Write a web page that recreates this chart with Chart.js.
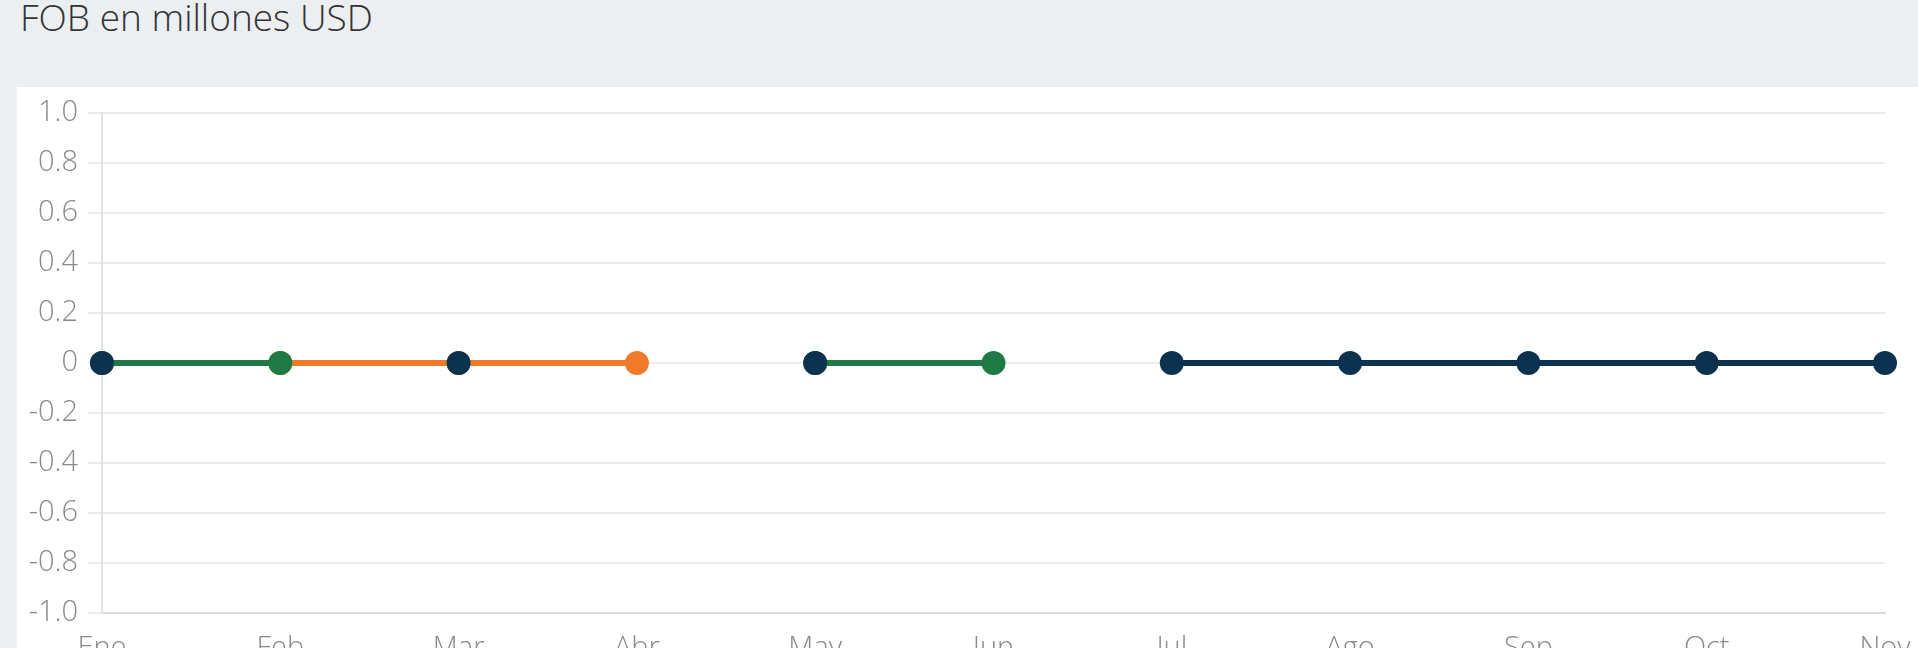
<!DOCTYPE html>
<html>
<head>
<meta charset="utf-8">
<script src="https://cdn.jsdelivr.net/npm/chart.js@4/dist/chart.umd.min.js"></script>
<style>
  html, body { margin: 0; padding: 0; overflow: hidden; background: #ebeff2; width: 1918px; height: 648px; }
  #title { position: absolute; left: 20px; top: -2px; font-family: "Open Sans", sans-serif; font-weight: 300; font-size: 37px; line-height: 37px; color: #333; white-space: nowrap; }
  #panel { position: absolute; left: 17px; top: 87px; width: 1901px; height: 600px; background: #fff; }
  #myChart { position: absolute; left: 0; top: 0; }
</style>
</head>
<body>
<div id="title">FOB en millones USD</div>
<div id="panel"><canvas id="myChart" width="1901" height="620"></canvas></div>
<script>
// months on the x axis
const months = ['Ene', 'Feb', 'Mar', 'Abr', 'May', 'Jun', 'Jul', 'Ago', 'Sep', 'Oct', 'Nov'];

// one value per month, null where the series has no point
const navyValues   = [0, null, 0, null, 0, null, 0, 0, 0, 0, 0];
const greenValues  = [0, 0, null, null, 0, 0, null, null, null, null, null];
const orangeValues = [null, 0, 0, 0, null, null, null, null, null, null, null];

const yMin = -1.0;
const yMax = 1.0;
const yStep = 0.2;

const tickFont = { family: '"Open Sans", sans-serif', size: 29, weight: '300' };

function lineSet(label, values, color) {
    return {
        label: label,
        data: values,
        borderColor: color,
        backgroundColor: color,
        pointBackgroundColor: color,
        pointBorderColor: color,
        borderWidth: 6,
        pointRadius: 11,
        pointBorderWidth: 2,
        spanGaps: false,
        tension: 0
    };
}

const ctx = document.getElementById('myChart').getContext('2d');

const config = {
    type: 'line',
    data: {
        labels: months,
        datasets: [
            lineSet('Serie 1', navyValues, '#0b3350'),
            lineSet('Serie 2', greenValues, '#1f7a45'),
            lineSet('Serie 3', orangeValues, '#f07a2a'),
        ],
    },
    options: {
        responsive: false,
        maintainAspectRatio: false,
        animation: false,
        layout: { padding: { top: 26, right: 33, left: 0, bottom: 0 } },
        plugins: {
            legend: { display: false },
            tooltip: { enabled: false }
        },
        scales: {
            x: {
                offset: false,
                grid: { display: false, drawTicks: false },
                border: { display: true, color: '#dcdcdc', width: 2 },
                ticks: { font: tickFont, color: '#8a8a8a', padding: 18, maxRotation: 0, autoSkip: false },
                afterFit: function (scale) {
                    scale.height = 94;
                    scale.paddingLeft = 0;
                    scale.paddingRight = 0;
                }
            },
            y: {
                min: yMin,
                max: yMax,
                grid: { color: '#ebebeb', lineWidth: 2, tickLength: 14 },
                border: { display: true, color: '#e3e3e3', width: 2 },
                ticks: {
                    stepSize: yStep,
                    font: tickFont,
                    color: '#8a8a8a',
                    padding: 10,
                    callback: function (v) {
                        return Math.abs(v) < 1e-9 ? '0' : v.toFixed(1);
                    }
                },
                afterFit: function (scale) {
                    scale.width = 85;
                    scale.paddingTop = 0;
                    scale.paddingBottom = 0;
                }
            }
        }
    }
};

const myChart = new Chart(ctx, config);
</script>
</body>
</html>
